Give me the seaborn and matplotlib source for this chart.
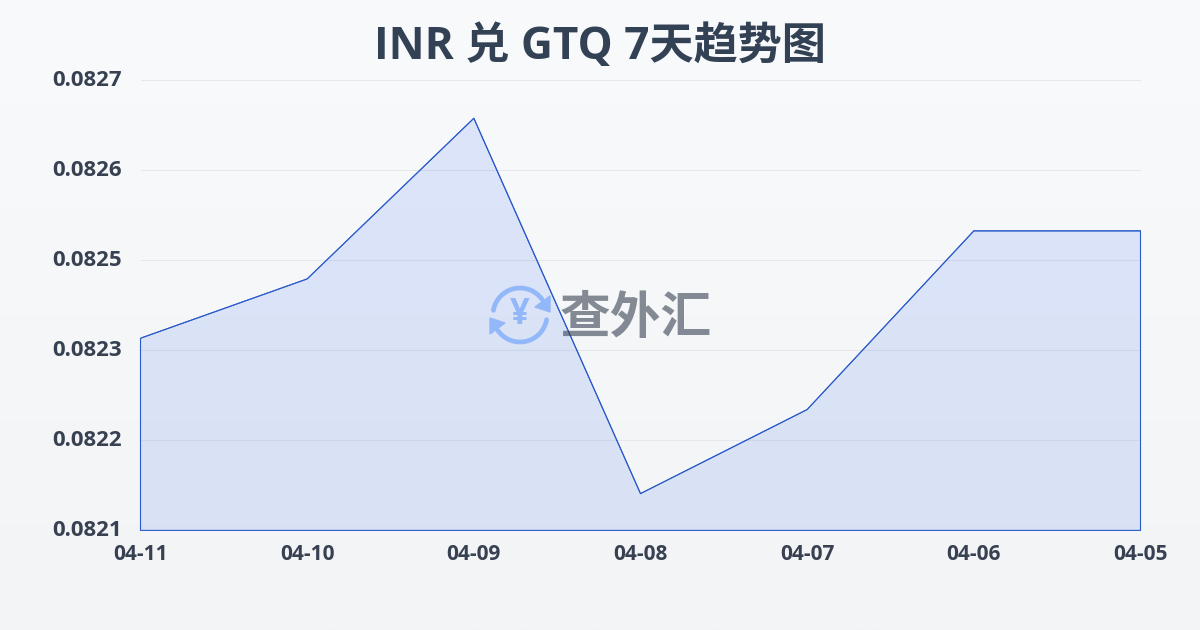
import numpy as np
import pandas as pd
import matplotlib
matplotlib.use("Agg")
import matplotlib.pyplot as plt
import matplotlib.transforms as mtrans
import seaborn as sns
from matplotlib.patches import Arc, Polygon

# values
dates = ["04-11", "04-10", "04-09", "04-08", "04-07", "04-06", "04-05"]
rates = [0.082356, 0.082435, 0.082649, 0.082149, 0.082261, 0.082499, 0.082499]
y_ticks = [0.0821, 0.08222, 0.08234, 0.08246, 0.08258, 0.0827]
y_labels = ["0.0821", "0.0822", "0.0823", "0.0825", "0.0826", "0.0827"]
title = "INR 兑 GTQ 7天趋势图"
brand = "查外汇"

TEXT = "#374151"
LINE = "#2a5bcb"
GRID = "#e5e7eb"
ICON = "#93b8fa"

sns.set_theme(style="white")
plt.rcParams["font.family"] = ["Open Sans", "Noto Sans CJK SC", "DejaVu Sans"]

df = pd.DataFrame({"date": dates, "rate": rates})

fig = plt.figure(figsize=(12, 6.3), dpi=100)

# page background gradient
bg = fig.add_axes([0, 0, 1, 1], zorder=0)
top = np.array(matplotlib.colors.to_rgb("#f9fafc"))
bottom = np.array(matplotlib.colors.to_rgb("#f3f4f6"))
grad = np.linspace(0, 1, 256)[:, None, None] * (bottom - top) + top
bg.imshow(grad, aspect="auto", extent=[0, 1, 0, 1])
bg.axis("off")

ax = fig.add_axes([140.5 / 1200, 99.6 / 630, 1000 / 1200, 450.4 / 630], zorder=1)
ax.patch.set_alpha(0)

sns.lineplot(data=df, x="date", y="rate", sort=False, color=LINE, linewidth=0.75, ax=ax, zorder=3)
ax.fill_between(df["date"], df["rate"], y_ticks[0], color="#2563eb", alpha=0.13, linewidth=0, zorder=2)
ax.fill_between(df["date"], df["rate"], y_ticks[0], facecolor="none", edgecolor=LINE, linewidth=0.8,
                zorder=3, clip_on=False)

ax.set_xlim(0, len(dates) - 1)
ax.set_ylim(y_ticks[0], y_ticks[-1])
ax.set_yticks(y_ticks, y_labels)
ax.set_xlabel("")
ax.set_ylabel("")
ax.grid(axis="y", color=GRID, linewidth=0.75)
ax.set_axisbelow(True)
sns.despine(ax=ax, left=True, bottom=True, top=True, right=True)
ax.tick_params(axis="y", length=0, pad=13.5, labelsize=16, labelcolor=TEXT)
ax.tick_params(axis="x", length=7, width=0.75, color=GRID, pad=2.5, labelsize=15, labelcolor=TEXT)
for lab in ax.get_xticklabels() + ax.get_yticklabels():
    lab.set_fontweight("bold")
# y labels sit a little above their grid lines
nudge = mtrans.ScaledTranslation(0, 2 / 100, fig.dpi_scale_trans)
for lab in ax.get_yticklabels():
    lab.set_transform(lab.get_transform() + nudge)

fig.text(0.5, 1 - 47 / 630, title, ha="center", va="center", fontsize=31.8, fontweight="bold", color="#334155")

# watermark in page pixels
wm = fig.add_axes([0, 0, 1, 1], zorder=4)
wm.set_xlim(0, 1200)
wm.set_ylim(630, 0)
wm.axis("off")
wm.patch.set_alpha(0)
wm.add_patch(Arc((520, 315), 54, 54, theta1=190, theta2=325, color=ICON, linewidth=3.4, capstyle="round"))
wm.add_patch(Arc((520, 315), 54, 54, theta1=10, theta2=145, color=ICON, linewidth=3.4, capstyle="round"))
wm.add_patch(Polygon([(550, 296), (550, 312), (535, 307)], closed=True, color=ICON))
wm.add_patch(Polygon([(490, 318), (490, 334), (505, 323)], closed=True, color=ICON))
wm.text(520, 315, "¥", ha="center", va="center", fontsize=25, fontweight="bold", color=ICON)
wm.text(636, 318, brand, ha="center", va="center", fontsize=36.5, fontweight="bold",
        color="#374151", alpha=0.6, family=["Noto Sans CJK SC", "DejaVu Sans"])

fig.savefig("out.png", dpi=100)
plt.close(fig)
